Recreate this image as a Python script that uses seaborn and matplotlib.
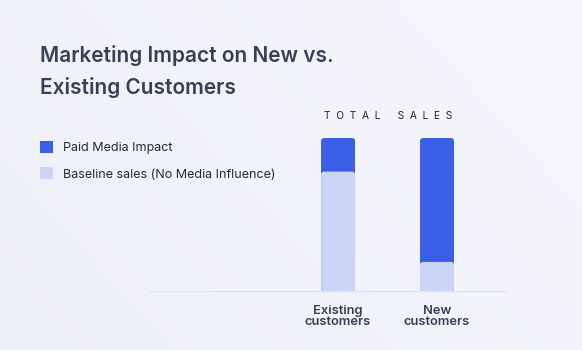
import numpy as np
import pandas as pd
import matplotlib
matplotlib.use("Agg")
import matplotlib.pyplot as plt
import seaborn as sns
from matplotlib.patches import FancyBboxPatch, Patch

categories = ["Existing\ncustomers", "New\ncustomers"]
baseline = [79, 20]
paid = [21, 80]
series_names = ["Paid Media Impact", "Baseline sales (No Media Influence)"]
title = "Marketing Impact on New vs.\nExisting Customers"
subtitle = "T  O  T  A  L      S  A  L  E  S"

BLUE = "#3a5ee8"
LIGHT = "#cdd5f6"
BG = "#f3f4fb"
TEXT = "#364156"

sns.set_theme(style="white")
plt.rcParams["font.family"] = ["Inter", "DejaVu Sans"]

fig = plt.figure(figsize=(5.82, 3.5), dpi=100)
# background gradient
bg_ax = fig.add_axes([0, 0, 1, 1], zorder=-10)
yy, xx = np.mgrid[0:1:200j, 0:1:300j]
grad = np.clip(0.35 * (1 - yy) + 0.65 * xx, 0, 1)
c0 = np.array([0.930, 0.937, 0.970])
c1 = np.array([0.968, 0.972, 0.994])
img = c0[None, None, :] * (1 - grad[..., None]) + c1[None, None, :] * grad[..., None]
bg_ax.imshow(img, aspect="auto", extent=[0, 1, 0, 1], origin="upper")
bg_ax.axis("off")
fig.patch.set_facecolor(BG)

ax = fig.add_axes([150 / 582, 1 - 291 / 350, 355 / 582, (291 - 138) / 350])
ax.set_facecolor("none")

df = pd.DataFrame({"cat": categories, "baseline": baseline, "paid": paid})
df["total"] = df["baseline"] + df["paid"]

sns.barplot(data=df, x="cat", y="total", color=BLUE, width=0.343, ax=ax,
            saturation=1, order=categories)
sns.barplot(data=df, x="cat", y="baseline", color=LIGHT, width=0.343, ax=ax,
            saturation=1, order=categories)

ax.set_xlim(-1.9, 1.687)
ax.set_ylim(0, 100)

# round bar corners, leave small gap between segments
px_x = 99.0
px_y = 153 / 100
rad_x = 3.0 / px_x
for i, p in enumerate(list(ax.patches)):
    x, y, w, h = p.get_x(), p.get_y(), p.get_width(), p.get_height()
    fc = p.get_facecolor()
    p.set_visible(False)
    h_draw = h - 1.5 / px_y if i >= 2 else h
    fb = FancyBboxPatch((x, y), w, h_draw,
                        boxstyle=f"round,pad=0,rounding_size={rad_x}",
                        mutation_aspect=px_x / px_y,
                        facecolor=fc, edgecolor="none", zorder=3)
    ax.add_patch(fb)

for s in ["top", "right", "left"]:
    ax.spines[s].set_visible(False)
ax.spines["bottom"].set_color("#dde2f4")
ax.spines["bottom"].set_linewidth(1.0)
ax.set_yticks([])
ax.set_xlabel("")
ax.set_ylabel("")
ax.tick_params(axis="x", length=0, pad=10)
for lab in ax.get_xticklabels():
    lab.set_fontsize(9.3)
    lab.set_color(TEXT)
    lab.set_fontweight("semibold")
    lab.set_linespacing(0.95)

fig.text(40 / 582, 1 - 45 / 350, title, fontsize=15, fontweight="semibold",
         color=TEXT, va="top", ha="left", linespacing=1.62)
fig.text(388 / 582, 1 - 116 / 350, subtitle, fontsize=7.3, color="#222222",
         ha="center", va="center")

handles = [Patch(facecolor=BLUE, edgecolor="none"), Patch(facecolor=LIGHT, edgecolor="none")]
leg = fig.legend(handles, series_names, loc="upper left",
                 bbox_to_anchor=(29 / 582, 1 - 130 / 350), frameon=False,
                 fontsize=9, handlelength=1.05, handleheight=1.05,
                 handletextpad=0.75, labelspacing=1.05, labelcolor="#222a3a")

fig.savefig("out.png", dpi=100)
